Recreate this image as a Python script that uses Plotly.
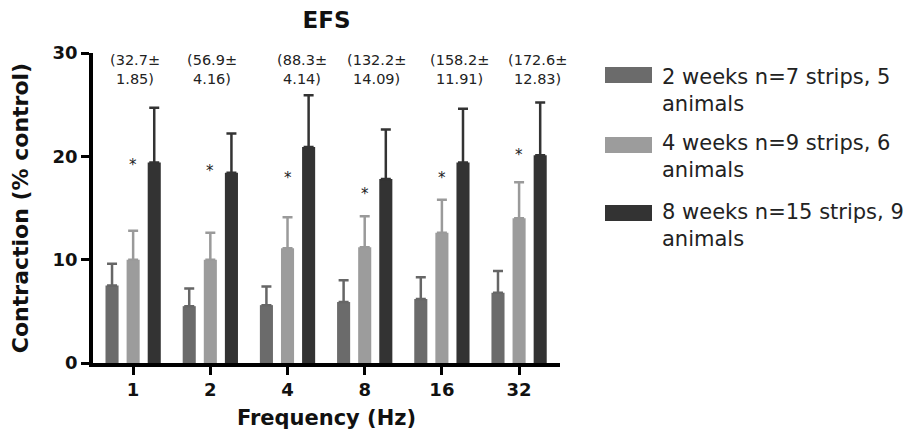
import plotly.graph_objects as go

# ---- data ----
frequencies = ["1", "2", "4", "8", "16", "32"]
series_names = [
    "2 weeks n=7 strips, 5<br>animals",
    "4 weeks n=9 strips, 6<br>animals",
    "8 weeks n=15 strips, 9<br>animals",
]
week2_mean = [7.5, 5.5, 5.6, 5.9, 6.2, 6.8]
week2_sem = [2.1, 1.7, 1.8, 2.1, 2.1, 2.1]
week4_mean = [10.0, 10.0, 11.1, 11.2, 12.6, 14.0]
week4_sem = [2.8, 2.6, 3.0, 3.0, 3.2, 3.5]
week8_mean = [19.4, 18.4, 20.9, 17.8, 19.4, 20.1]
week8_sem = [5.3, 3.8, 5.0, 4.8, 5.2, 5.1]
star_y = [19.5, 18.9, 18.2, 16.6, 18.2, 20.4]
control_labels = ["(32.7±<br>1.85)", "(56.9±<br>4.16)", "(88.3±<br>4.14)",
                  "(132.2±<br>14.09)", "(158.2±<br>11.91)", "(172.6±<br>12.83)"]

# ---- style ----
FONT = "DejaVu Sans"
colors = ["#6b6b6b", "#9c9c9c", "#333333"]
err_colors = ["#666666", "#9a9a9a", "#333333"]
OFF = 8  # page body margin
W, H = 917 - OFF, 438 - OFF
L, T = 93 - OFF, 53 - OFF
pw, ph = 467, 310
R = W - L - pw
B = H - T - ph


def px_x(px):
    return (px - OFF - L) / pw


def px_y(py):
    return (T + ph - (py - OFF)) / ph


xpos = list(range(len(frequencies)))

fig = go.Figure()
means = [week2_mean, week4_mean, week8_mean]
sems = [week2_sem, week4_sem, week8_sem]
for i in range(3):
    fig.add_trace(go.Bar(
        x=xpos, y=means[i], name=series_names[i],
        marker=dict(color=colors[i], line=dict(width=0)),
        error_y=dict(type="data", array=sems[i], arrayminus=[0] * len(sems[i]),
                     symmetric=False, color=err_colors[i], thickness=2.5, width=5),
        showlegend=False,
    ))

annotations = []
# significance stars
for xi, sy in zip(xpos, star_y):
    annotations.append(dict(x=xi, y=sy, xref="x", yref="y", text="*", showarrow=False,
                            font=dict(family=FONT, size=15, color="#222"),
                            yanchor="middle", yshift=-3))
# control values
label_shift = [2, 2, 14, 12, 18, 18]
for xi, t, s in zip(xpos, control_labels, label_shift):
    annotations.append(dict(x=xi, y=28.4, xref="x", yref="y", text=t, showarrow=False,
                            font=dict(family=FONT, size=14.5, color="#222"),
                            yanchor="middle", xshift=s))

# manual legend
shapes = []
box_centers = [75, 145, 213]
text_centers = [90, 156, 225]
for i in range(3):
    shapes.append(dict(type="rect", xref="paper", yref="paper",
                       x0=px_x(605), x1=px_x(652),
                       y0=px_y(box_centers[i] + 8), y1=px_y(box_centers[i] - 8),
                       fillcolor=colors[i], line=dict(width=0)))
    annotations.append(dict(x=px_x(660), y=px_y(text_centers[i]), xref="paper", yref="paper",
                            text=series_names[i], showarrow=False, align="left",
                            xanchor="left", yanchor="middle",
                            font=dict(family=FONT, size=21, color="#222")))

fig.update_layout(
    width=W, height=H,
    margin=dict(l=L, r=R, t=T, b=B),
    paper_bgcolor="white", plot_bgcolor="white",
    barmode="group", bargap=0.18, bargroupgap=0.38,
    title=dict(text="<b>EFS</b>", x=0.5, xref="paper", y=1 - (20 - OFF) / H, yanchor="middle",
               font=dict(family=FONT, size=23, color="#111")),
    annotations=annotations, shapes=shapes,
    showlegend=False,
)
fig.update_xaxes(
    range=[-0.52, 5.53], tickvals=xpos, ticktext=frequencies,
    showline=True, linewidth=3.5, linecolor="black",
    ticks="outside", ticklen=8, tickwidth=3, tickcolor="black",
    tickfont=dict(family=FONT, size=18, color="#111", weight="bold"),
    title=dict(text="<b>Frequency (Hz)</b>", font=dict(family=FONT, size=21, color="#111"),
               standoff=12),
    showgrid=False, zeroline=False, automargin=False,
)
fig.update_yaxes(
    range=[0, 30], tickvals=[0, 10, 20, 30], showline=True, linewidth=3.5, linecolor="black",
    ticks="outside", ticklen=8, tickwidth=3, tickcolor="black",
    tickfont=dict(family=FONT, size=18, color="#111", weight="bold"),
    title=dict(text="<b>Contraction (% control)</b>", font=dict(family=FONT, size=22, color="#111"),
               standoff=22),
    showgrid=False, zeroline=False, automargin=False,
)

fig.write_html("out.html")
